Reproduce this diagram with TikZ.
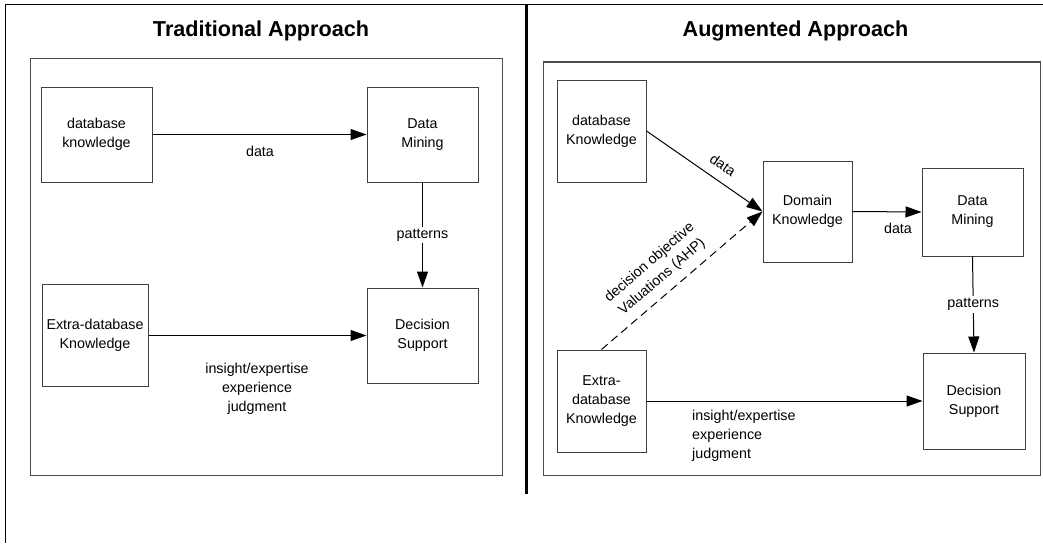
\documentclass[tikz,border=0pt]{standalone}
\usepackage{fontspec}
\setmainfont{Liberation Sans}
\usetikzlibrary{arrows.meta}
\begin{document}
\begin{tikzpicture}[x=1pt,y=-1pt,
  txt/.style={font=\fontsize{14.3}{19}\selectfont, align=center, inner sep=2pt},
  box/.style={txt, draw=black!75, line width=1pt, inner sep=0pt},
  frame/.style={draw=black!70, line width=1pt},
  title/.style={font=\fontsize{21.6}{26}\selectfont\bfseries, inner sep=0pt},
  arr/.style={-{Triangle[length=16pt,width=11pt]}, line width=1pt},
  dasharr/.style={arr, dash pattern=on 8pt off 5pt},
  lbl/.style={txt, fill=white}
]
\useasboundingbox (0,0) rectangle (1043,543);
% outer frame
\draw[line width=1pt] (5.3,543) -- (5.3,4.3) -- (1043,4.3);
\draw[line width=3.5pt] (526.5,4.3) -- (526.5,494);
% titles
\node[title] (t1) at (261,31) {Traditional Approach};
\node[title] (t2) at (795.5,31) {Augmented Approach};
% inner frames
\draw[frame] (30,59) rectangle (502,475);
\draw[frame] (543,62) rectangle (1040,475);

% ---------- left ----------
\node[box, minimum width=111pt, minimum height=95pt] (dbk) at (96.5,134.5) {database\\knowledge};
\node[box, minimum width=111pt, minimum height=95pt] (dm) at (422.5,134.5) {Data\\Mining};
\node[box, minimum width=106pt, minimum height=102pt] (exk) at (95,335.5) {Extra-database\\Knowledge};
\node[box, minimum width=111pt, minimum height=95pt] (ds) at (422.5,335.5) {Decision\\Support};

\draw[arr] (dbk.east) -- (dm.west);
\node[txt] (ldata) at (260,151) {data};
\draw[arr] (dm.south) -- node[lbl] (lpat) {patterns} (ds.north);
\draw[arr] (exk.east) -- (ds.west);
\node[txt] (lins) at (257,389) {insight/expertise\\experience\\judgment};

% ---------- right ----------
\node[box, minimum width=89pt, minimum height=102pt] (rdbk) at (601.5,131) {database\\Knowledge};
\node[box, minimum width=89pt, minimum height=101pt] (rdk) at (807.5,211.5) {Domain\\Knowledge};
\node[box, minimum width=101pt, minimum height=88pt] (rdm) at (972.5,212) {Data\\Mining};
\node[box, minimum width=89pt, minimum height=102pt] (rexk) at (601.5,401) {Extra-\\database\\Knowledge};
\node[box, minimum width=102pt, minimum height=96pt] (rds) at (974,401) {Decision\\Support};

\draw[arr] (rdbk.east) -- (rdk.west);
\node[txt, rotate=-35] (rdata1) at (723,165) {data};
\draw[dasharr] (rexk.north) -- (rdk.west);
\node[txt, rotate=40.75] (rdec) at (656,270) {decision objective\\Valuations (AHP)};
\draw[arr] (rdk.east) -- (rdm.west);
\node[txt] (rdata2) at (898,228) {data};
\draw[arr] (rdm.south) -- node[lbl] (rpat) {patterns} (rds.north);
\draw[arr] (rexk.east) -- (rds.west);
\node[txt, anchor=west, align=left] (rins) at (690,436) {insight/expertise\\experience\\judgment};
\end{tikzpicture}
\end{document}
